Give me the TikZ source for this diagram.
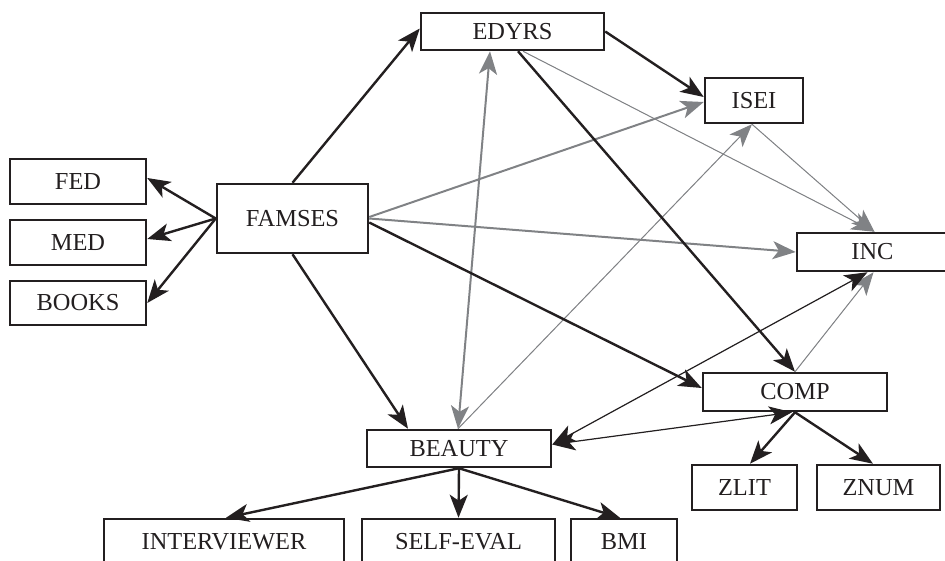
\documentclass[tikz,border=0pt]{standalone}
\usepackage{fontspec}
\setmainfont{Liberation Serif}
\usetikzlibrary{arrows.meta}
\definecolor{ink}{RGB}{35,31,32}
\definecolor{midgray}{RGB}{128,130,133}
\begin{document}
\begin{tikzpicture}[x=1pt,y=-1pt,
  >={Stealth[length=23pt,width=18pt,inset=6pt]},
  box/.style={draw=ink, line width=2.5pt, fill=white, inner sep=0pt,
    font=\fontsize{24.4}{29}\selectfont, text=ink},
  blk/.style={->, draw=ink, fill=ink, line width=2.4pt},
  gry/.style={->, draw=midgray, fill=midgray, line width=2pt},
  thg/.style={->, draw=midgray, fill=midgray, line width=1pt},
  thb/.style={->, draw=ink, fill=ink, line width=1.2pt}]
\useasboundingbox (0,0) rectangle (945,561);
\clip (0,0) rectangle (945,561);

\node[box, minimum width=183pt, minimum height=37pt] (edyrs) at (512.5,31.5) {EDYRS};
\node[box, minimum width=98pt, minimum height=45pt] (isei) at (754,100.5) {ISEI};
\node[box, minimum width=136pt, minimum height=45pt] (fed) at (78,181.5) {FED};
\node[box, minimum width=136pt, minimum height=45pt] (med) at (78,242.5) {MED};
\node[box, minimum width=136pt, minimum height=44pt] (books) at (78,303) {BOOKS};
\node[box, minimum width=151pt, minimum height=69pt] (famses) at (292.5,218.5) {FAMSES};
\node[box, minimum width=151pt, minimum height=38pt] (inc) at (872.5,252) {INC};
\node[box, minimum width=184pt, minimum height=38pt] (comp) at (795,392) {COMP};
\node[box, minimum width=184pt, minimum height=37pt] (beauty) at (459,448.5) {BEAUTY};
\node[box, minimum width=105pt, minimum height=45pt] (zlit) at (744.5,487.5) {ZLIT};
\node[box, minimum width=123pt, minimum height=45pt] (znum) at (878.5,487.5) {ZNUM};
\node[box, minimum width=240pt, minimum height=46pt] (interviewer) at (224,542) {INTERVIEWER};
\node[box, minimum width=193pt, minimum height=46pt] (selfeval) at (458.5,542) {SELF-EVAL};
\node[box, minimum width=106pt, minimum height=46pt] (bmi) at (624,542) {BMI};

% gray connectors
\draw[gry] ([yshift=1.5pt]famses.east) -- ([yshift=-1.5pt]isei.west);
\draw[gry] (famses.east) -- (inc.west);
\draw[thg] ([xshift=10.5pt]edyrs.south) -- ([xshift=2pt]inc.north);
\draw[thg] ([xshift=-2pt]isei.south) -- ([xshift=2pt]inc.north);
\draw[gry,<->] ([xshift=-1pt]beauty.north) -- ([xshift=-22.5pt]edyrs.south);
\draw[thg] ([xshift=-1pt]beauty.north) -- ([xshift=-2pt]isei.south);
\draw[thg] (comp.north) -- ([xshift=1pt]inc.south);

% black connectors
\draw[blk] (famses.north) -- ([yshift=3pt]edyrs.west);
\draw[blk] (famses.west) -- ([yshift=3.5pt]fed.east);
\draw[blk] (famses.west) -- ([yshift=3.5pt]med.east);
\draw[blk] (famses.west) -- (books.east);
\draw[blk] (famses.south) -- ([xshift=-51pt]beauty.north);
\draw[blk] ([yshift=-4pt]famses.east) -- ([yshift=4pt]comp.west);
\draw[blk] (edyrs.east) -- ([yshift=3.5pt]isei.west);
\draw[blk] ([xshift=5.5pt]edyrs.south) -- (comp.north);
\draw[thb,<->] ([yshift=4pt]beauty.east) -- ([xshift=-5pt]inc.south);
\draw[thb,<->] ([yshift=4pt]beauty.east) -- ([xshift=-3pt]comp.south);
\draw[blk] (comp.south) -- ([xshift=5.5pt]zlit.north);
\draw[blk] (comp.south) -- ([xshift=-5.5pt]znum.north);
\draw[blk] (beauty.south) -- ([xshift=2pt]interviewer.north);
\draw[blk] (beauty.south) -- (selfeval.north);
\draw[blk] (beauty.south) -- ([xshift=-4pt]bmi.north);
\end{tikzpicture}
\end{document}
